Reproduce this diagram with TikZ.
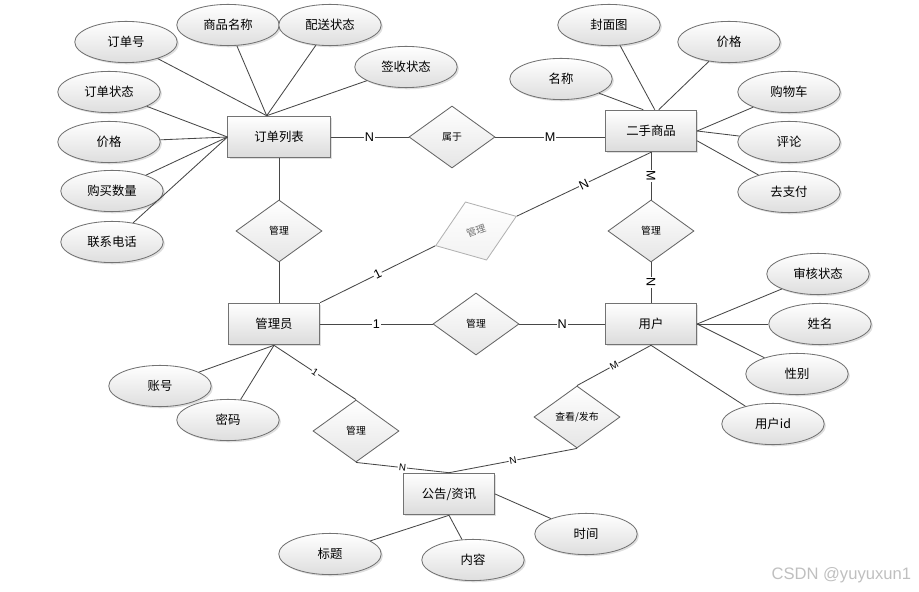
\documentclass[tikz,border=0pt]{standalone}
\usepackage{fontspec}
\setmainfont{Liberation Sans}
\newfontfamily\cjk{Noto Sans CJK SC}
\usetikzlibrary{shapes.geometric,shadows}

\begin{document}
\begin{tikzpicture}[x=0.025cm,y=-0.025cm,
  ent/.style={draw=black!55,line width=0.7pt,top color=white,bottom color=black!14,
    minimum width=2.28cm,minimum height=1.04cm,inner sep=0pt,font=\cjk\fontsize{8.8}{10}\selectfont,
    drop shadow={shadow xshift=1.2pt,shadow yshift=-1.2pt,opacity=0.25}},
  attr/.style={ellipse,draw=black!55,line width=0.6pt,top color=white,bottom color=black!13,
    minimum width=2.56cm,minimum height=1.03cm,inner sep=0pt,font=\cjk\fontsize{8.8}{10}\selectfont,
    drop shadow={shadow xshift=1.2pt,shadow yshift=-1.2pt,opacity=0.25}},
  rel/.style={diamond,draw=black!60,line width=0.6pt,top color=white,bottom color=black!10,
    minimum width=2.15cm,minimum height=1.55cm,inner sep=0pt,font=\cjk\fontsize{7}{8}\selectfont},
  ln/.style={draw=black!72,line width=0.6pt},
  card/.style={fill=white,inner sep=0.6pt,font=\fontsize{9}{9}\selectfont},
  cards/.style={card,sloped,font=\fontsize{7}{7}\selectfont}]
\useasboundingbox (0,0) rectangle (919,591);

\node[ent,minimum width=2.55cm] (ddlb) at (279,137) {订单列表};
\node[ent] (ersp) at (651,131) {二手商品};
\node[ent] (gly) at (274,324) {管理员};
\node[ent] (yh) at (651,324) {用户};
\node[ent] (gg) at (449,494) {公告/资讯};

\node[rel] (sy) at (452,137) {属于};
\node[rel] (gl1) at (279,231) {管理};
\node[rel,draw=black!30,text=black!55,top color=white,bottom color=black!5,rotate=20] (gl2) at (476,231) {管理};
\node[rel] (gl3) at (651,231) {管理};
\node[rel] (gl4) at (476,324) {管理};
\node[rel] (gl5) at (356,431) {管理};
\node[rel] (ckfb) at (577,417) {查看/发布};

\node[attr] (ddh) at (126,42) {订单号};
\node[attr] (spmc) at (228,25) {商品名称};
\node[attr] (pszt) at (330,25) {配送状态};
\node[attr] (qszt) at (406,67) {签收状态};
\node[attr] (ddzt) at (109,92) {订单状态};
\node[attr] (jg1) at (109,142) {价格};
\node[attr] (gmsl) at (112,191) {购买数量};
\node[attr] (lxdh) at (112,242) {联系电话};

\node[attr] (fmt) at (609,25) {封面图};
\node[attr] (jg2) at (729,42) {价格};
\node[attr] (mc) at (561,79) {名称};
\node[attr] (gwc) at (789,92) {购物车};
\node[attr] (pl) at (789,142) {评论};
\node[attr] (qzf) at (789,192) {去支付};

\node[attr] (zh) at (160,386) {账号};
\node[attr] (mm) at (228,420) {密码};

\node[attr] (shzt) at (818,274) {审核状态};
\node[attr] (xm) at (820,324) {姓名};
\node[attr] (xb) at (797,374) {性别};
\node[attr] (yhid) at (773,424) {用户id};

\node[attr] (bt) at (330,554) {标题};
\node[attr] (nr) at (473,560) {内容};
\node[attr] (sj) at (586,534) {时间};

\draw[ln] (ddh) -- (ddlb.120);
\draw[ln] (spmc) -- (ddlb.120);
\draw[ln] (pszt) -- (ddlb.120);
\draw[ln] (qszt) -- (ddlb.120);
\draw[ln] (ddzt) -- (ddlb.west);
\draw[ln] (jg1) -- (ddlb.west);
\draw[ln] (gmsl) -- (ddlb.west);
\draw[ln] (lxdh) -- (ddlb.west);

\draw[ln] (mc) -- (ersp.110);
\draw[ln] (fmt) -- (ersp.80);
\draw[ln] (jg2) -- (ersp.70);
\draw[ln] (gwc) -- (ersp.east);
\draw[ln] (pl) -- (ersp.east);
\draw[ln] (qzf) -- (ersp.-12);

\draw[ln] (zh) -- (gly.south);
\draw[ln] (mm) -- (gly.south);

\draw[ln] (shzt) -- (yh.east);
\draw[ln] (xm) -- (yh.east);
\draw[ln] (xb) -- (yh.east);
\draw[ln] (yhid) -- (yh.south);

\draw[ln] (bt) -- (gg.south);
\draw[ln] (nr) -- (gg.south);
\draw[ln] (sj) -- (gg.east);

\draw[ln] (ddlb.east) -- node[card]{N} (sy.west);
\draw[ln] (sy.east) -- node[card]{M} (sy.east -| ersp.west);
\draw[ln] (ddlb.south) -- (gl1.north);
\draw[ln] (gl1.south) -- (gl1.south |- gly.north);
\draw[ln] (gly.north east) -- node[card,sloped]{1} (gl2.west);
\draw[ln] (gl2.east) -- node[card,sloped]{N} (ersp.south);
\draw[ln] (ersp.south) -- node[card,sloped]{M} (gl3.north);
\draw[ln] (gl3.south) -- node[card,sloped]{N} (yh.north);
\draw[ln] (gly.east) -- node[card]{1} (gl4.west);
\draw[ln] (gl4.east) -- node[card]{N} (yh.west);
\draw[ln] (gly.south) -- node[cards]{1} (gl5.north);
\draw[ln] (gl5.south) -- node[cards]{N} (gg.north);
\draw[ln] (yh.south) -- node[cards]{M} (ckfb.north);
\draw[ln] (ckfb.south) -- node[cards]{N} (gg.north);

\node[anchor=east,text=black!25,font=\fontsize{11.8}{12}\selectfont] (wm) at (916,575) {CSDN @yuyuxun1};
\end{tikzpicture}
\end{document}
